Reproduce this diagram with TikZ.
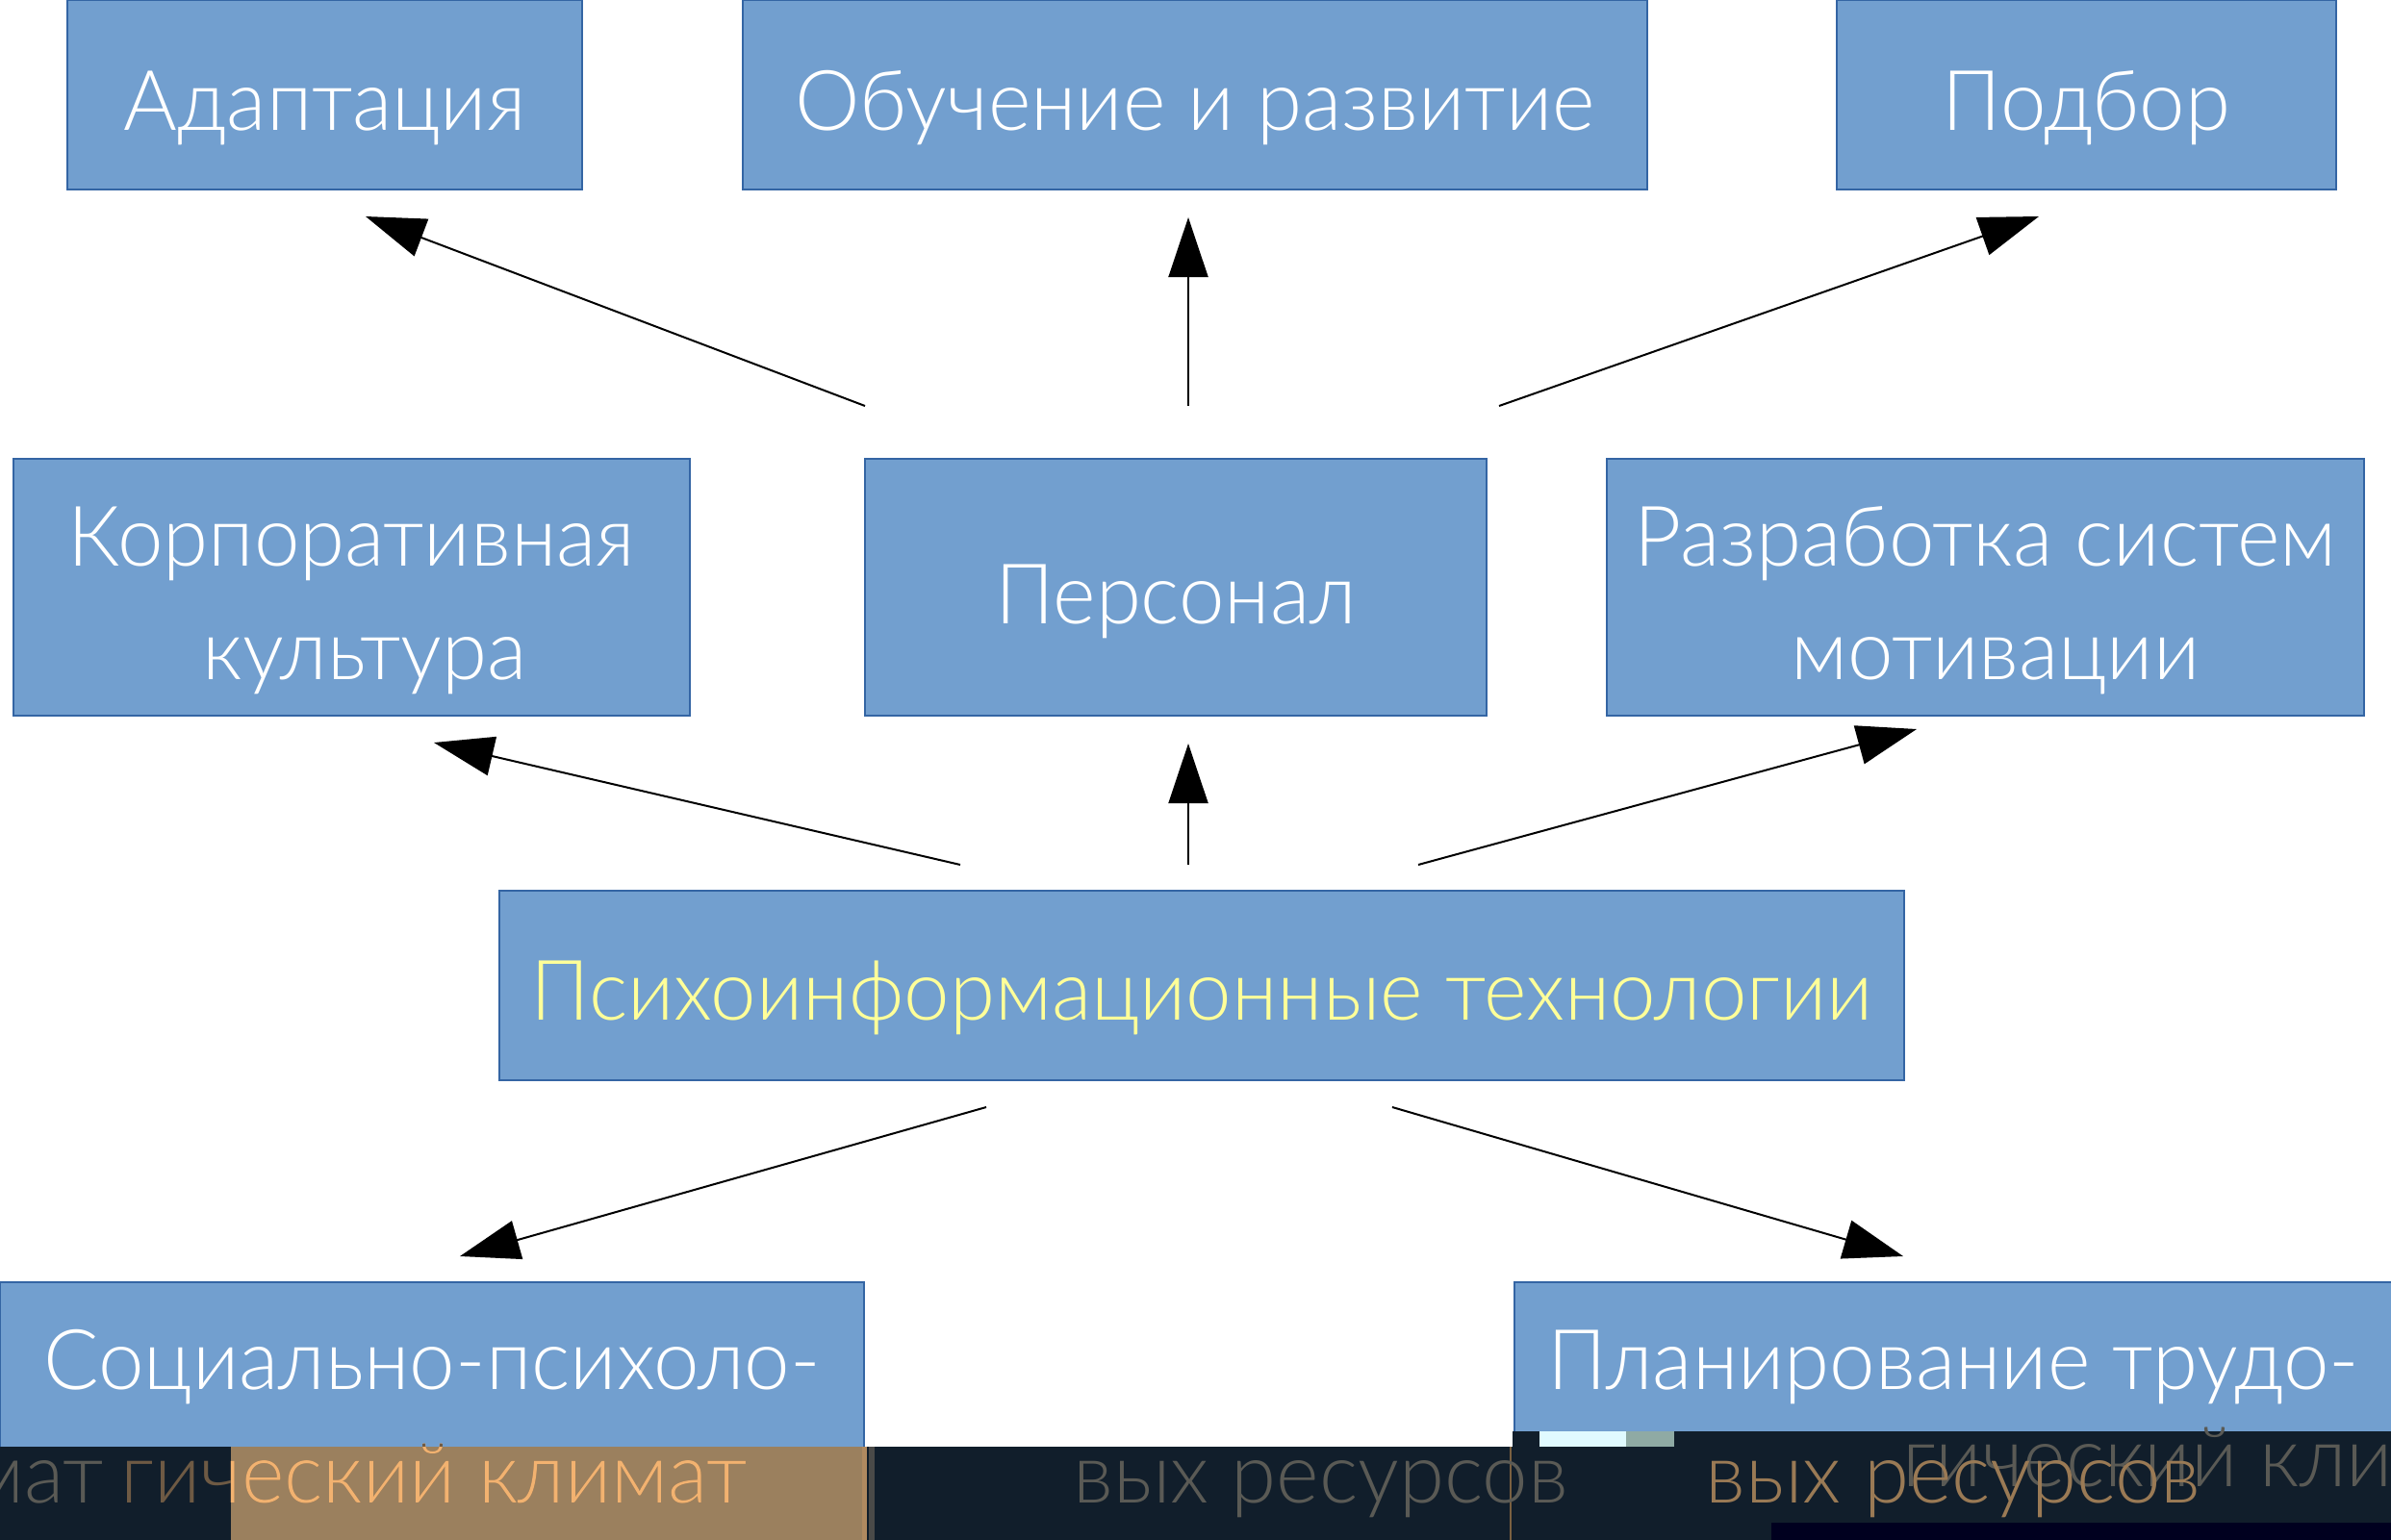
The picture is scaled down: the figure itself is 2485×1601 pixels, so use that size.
\documentclass[tikz,border=0pt]{standalone}
\usepackage{fontspec}
\IfFontExistsTF{Lato Light}{\setmainfont[FakeStretch=0.98]{Lato Light}}{\IfFontExistsTF{Open Sans Light}{\setmainfont[FakeStretch=0.95]{Open Sans Light}}{\setmainfont[FakeStretch=0.95]{Open Sans}}}
\usetikzlibrary{arrows.meta}
\definecolor{boxfill}{HTML}{729FCF}
\definecolor{boxline}{HTML}{3465A4}
\definecolor{yelltext}{HTML}{FFFF99}
\definecolor{navy}{HTML}{111E2B}
\definecolor{darknavy}{HTML}{00001F}
\definecolor{tanbg}{HTML}{9B805E}
\definecolor{orangetext}{HTML}{F2B270}
\definecolor{dimbrown}{HTML}{6E5A44}
\definecolor{ghost}{HTML}{5A5A55}
\definecolor{browntext}{HTML}{9A7A55}
\definecolor{stripa}{HTML}{B08A60}
\definecolor{stripb}{HTML}{4A4A48}
\definecolor{stripc}{HTML}{7A6040}
\definecolor{patcha}{HTML}{E0FAFF}
\definecolor{patchb}{HTML}{8FAAA4}
\begin{document}
\begin{tikzpicture}[x=1pt,y=-1pt,
  box/.style={rectangle, draw=boxline, line width=2pt, fill=boxfill, inner sep=0pt},
  txt/.style={text=white, inner sep=0pt, anchor=base, font=\fontsize{87}{104}\selectfont},
  arr/.style={line width=2pt, -{Triangle[length=62pt,width=41pt]}}]
\useasboundingbox (0,0) rectangle (2485,1601);
\fill[white] (0,0) rectangle (2485,1601);

% boxes
\node[box, minimum width=535pt, minimum height=197pt] (adapt) at (337.5,98.5) {};
\node[box, minimum width=940pt, minimum height=197pt] (obuch) at (1242,98.5) {};
\node[box, minimum width=519pt, minimum height=197pt] (podbor) at (2168.5,98.5) {};
\node[box, minimum width=703pt, minimum height=267pt] (korp) at (365.5,610.5) {};
\node[box, minimum width=646pt, minimum height=267pt] (pers) at (1222,610.5) {};
\node[box, minimum width=787pt, minimum height=267pt] (razr) at (2063.5,610.5) {};
\node[box, minimum width=1460pt, minimum height=197pt] (psy) at (1249,1024.5) {};
\node[box, minimum width=898pt, minimum height=267pt] (soc) at (449,1466.5) {};
\node[box, minimum width=912pt, minimum height=267pt] (plan) at (2030,1466.5) {};

% texts
\node[txt] (adaptT) at (337.5,135) {Адаптация};
\node[txt] (obuchT) at (1242,135) {Обучение и развитие};
\node[txt] (podborT) at (2168.5,135) {Подбор};
\node[txt] (korpT1) at (365.5,588) {Корпоративная};
\node[txt] (korpT2) at (379,706) {культура};
\node[txt] (persT) at (1222,648) {Персонал};
\node[txt] (razrT1) at (2063.5,588) {Разработка систем};
\node[txt] (razrT2) at (2074,706) {мотивации};
\node[txt, text=yelltext] (psyT) at (1249,1060) {Психоинформационные технологии};
\node[txt] (socT1) at (449,1444) {Социально-психоло-};
\node[txt] (socT2) at (451,1562) {гический климат};
\node[txt] (planT1) at (2030,1444) {Планирование трудо-};
\node[txt] (planT2) at (2030,1562) {вых ресурсов};

% connectors
\coordinate (a1s) at (899,422);  \coordinate (a1e) at (380,225);
\coordinate (a2s) at (1235,422); \coordinate (a2e) at (1235,226);
\coordinate (a3s) at (1558,422); \coordinate (a3e) at (2119,225);
\coordinate (b1s) at (998,899);  \coordinate (b1e) at (451,772);
\coordinate (b2s) at (1235,899); \coordinate (b2e) at (1235,773);
\coordinate (b3s) at (1474,899); \coordinate (b3e) at (1992,758);
\coordinate (c1s) at (1025,1151); \coordinate (c1e) at (478,1306);
\coordinate (c2s) at (1447,1151); \coordinate (c2e) at (1978,1306);
\draw[arr] (a1s) -- (a1e);
\draw[arr] (a2s) -- (a2e);
\draw[arr] (a3s) -- (a3e);
\draw[arr] (b1s) -- (b1e);
\draw[arr] (b2s) -- (b2e);
\draw[arr] (b3s) -- (b3e);
\draw[arr] (c1s) -- (c1e);
\draw[arr] (c2s) -- (c2e);

% glitched strip at the bottom
\fill[navy] (0,1504) rectangle (1572,1601);
\fill[navy] (1572,1488) rectangle (2485,1601);
\fill[darknavy] (1841,1583) rectangle (2485,1601);
\fill[tanbg] (240,1504) rectangle (896,1601);
\fill[stripa] (896,1504) rectangle (901,1601);
\fill[stripb] (903,1504) rectangle (909,1601);
\fill[stripc] (1569,1504) rectangle (1571,1601);
\fill[patcha] (1600,1488) rectangle (1690,1504);
\fill[patchb] (1690,1488) rectangle (1740,1504);
\node[txt, text=ghost, anchor=base east] (gh1) at (108,1562) {мат};
\node[txt, text=ghost, anchor=base east] (gh2) at (1630,1562) {вых ресурсов};
\node[txt, text=ghost, anchor=base west] (gh3) at (1977,1545) {гический климат};
\node[txt, text=dimbrown] (socT2b) at (451,1562) {гический климат};
\begin{scope}
\clip (240,1504) rectangle (896,1601);
\node[txt, text=orangetext] (socT2c) at (451,1562) {гический климат};
\end{scope}
\node[txt, text=browntext] (planT2b) at (2030,1562) {вых ресурсов};
\end{tikzpicture}
\end{document}
